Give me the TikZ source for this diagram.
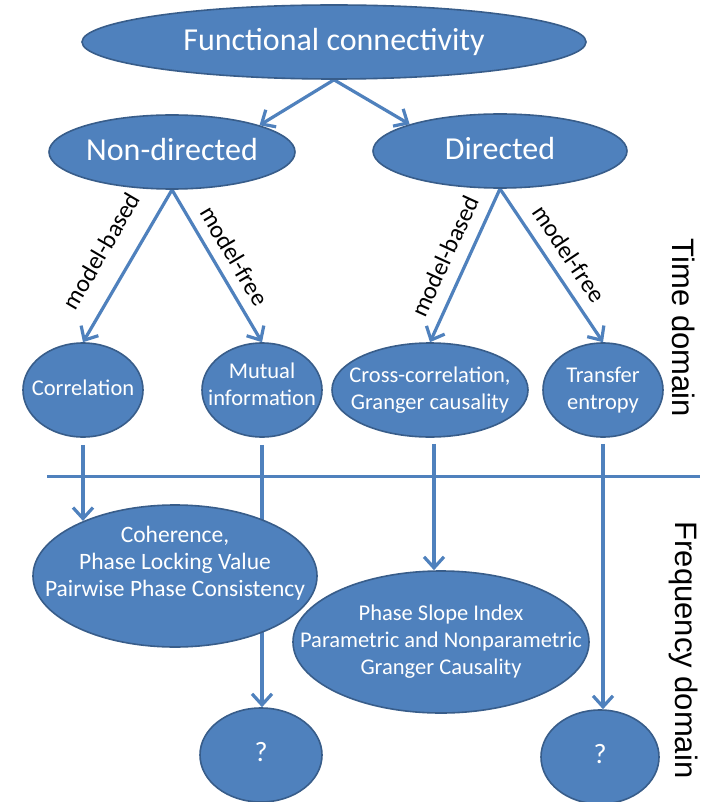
\documentclass[tikz,border=0pt]{standalone}
\usepackage{fontspec}
\setmainfont{Carlito}
\newfontfamily\domainfont{Liberation Sans}
\usetikzlibrary{arrows.meta,shapes.geometric}
\definecolor{fcfill}{RGB}{79,129,189}
\definecolor{fcedge}{RGB}{56,93,138}
\definecolor{fcline}{RGB}{79,129,189}
\pgfdeclarelayer{back}
\pgfsetlayers{back,main}
% text that does not change the size of its oval
\newcommand\ovaltext[2][0pt]{\makebox[0pt]{\raisebox{\dimexpr-.25em+#1\relax}[0pt][0pt]{\begin{tabular}{@{}c@{}}#2\end{tabular}}}}

\begin{document}
\begin{tikzpicture}[x=1pt, y=-1pt,
  oval/.style={ellipse, draw=fcedge, line width=1.6pt, fill=fcfill, text=white, inner sep=0pt},
  big/.style={font=\fontsize{32}{36}\selectfont},
  mid/.style={font=\fontsize{22.5}{27}\selectfont},
  lnk/.style={draw=fcline, line width=3.2pt, -{Straight Barb[length=11pt,width=20pt]}},
  tag/.style={font=\fontsize{24.5}{26}\selectfont, midway, sloped, above, inner sep=6pt},
  dom/.style={font=\domainfont\fontsize{31}{34}\selectfont, rotate=-90}]
\useasboundingbox (0,0) rectangle (705,802);
\begin{pgfonlayer}{back}
\fill[white] (0,0) rectangle (705,802);
\end{pgfonlayer}
% top levels
\node[oval, big, minimum width=504pt, minimum height=74pt] (fc) at (334,42) {\ovaltext{Functional connectivity}};
\node[oval, big, minimum width=246pt, minimum height=74pt] (non) at (172,152) {\ovaltext{Non-directed}};
\node[oval, big, minimum width=254pt, minimum height=74pt] (dir) at (500,151) {\ovaltext{Directed}};
% time domain
\node[oval, mid, minimum width=120pt, minimum height=94pt] (cor) at (83,390) {\ovaltext{Correlation}};
\node[oval, mid, minimum width=120pt, minimum height=94pt] (mut) at (262,390) {\ovaltext[4pt]{Mutual\\information}};
\node[oval, mid, minimum width=196pt, minimum height=94pt] (cro) at (430,390) {\ovaltext{Cross-correlation,\\Granger causality}};
\node[oval, mid, minimum width=120pt, minimum height=94pt] (tra) at (603,390) {\ovaltext{Transfer\\entropy}};
% frequency domain
\node[oval, font=\fontsize{23.5}{27}\selectfont, minimum width=284pt, minimum height=142pt] (coh) at (175,576) {\ovaltext[12pt]{Coherence,\\Phase Locking Value\\Pairwise Phase Consistency}};
\node[oval, mid, minimum width=296pt, minimum height=142pt] (psi) at (441,642) {\ovaltext{Phase Slope Index\\Parametric and Nonparametric\\Granger Causality}};
\node[oval, font=\fontsize{28}{30}\selectfont, minimum width=122pt, minimum height=94pt] (q1) at (261,755) {\ovaltext{?}};
\node[oval, font=\fontsize{28}{30}\selectfont, minimum width=118pt, minimum height=94pt] (q2) at (600,757) {\ovaltext{?}};
\node[dom] (td) at (684,328) {Time domain};
\node[dom] (frd) at (684,650) {Frequency domain};
\coordinate (sepl) at (47,476);
\coordinate (sepr) at (700,476);
\begin{pgfonlayer}{back}
\draw[lnk] (fc.south) -- (non.north east);
\draw[lnk] (fc.south) -- (dir.north west);
\draw[lnk] (non.south) -- node[tag, inner sep=20pt] (t1) {model-based} (cor.north);
\draw[lnk] (non.south) -- node[tag, inner sep=10pt] (t2) {model-free} (mut.north);
\draw[lnk] (dir.south) -- node[tag, inner sep=12pt] (t3) {model-based} (cro.north);
\draw[lnk] (dir.south) -- node[tag, inner sep=11pt] (t4) {model-free} (tra.north);
\draw[lnk, shorten <=7pt] (cor.south) -- (cor.south |- coh.149);
\draw[lnk, shorten <=7pt] (mut.south) -- (mut.south |- q1.north);
\draw[lnk, shorten <=6pt] ([xshift=4pt]cro.south) -- ([xshift=4pt]cro.south |- psi.north);
\draw[lnk, shorten <=6pt] (tra.south) -- (tra.south |- q2.north);
\draw[fcline, line width=3pt] (sepl) -- (sepr);
\end{pgfonlayer}
\end{tikzpicture}
\end{document}
